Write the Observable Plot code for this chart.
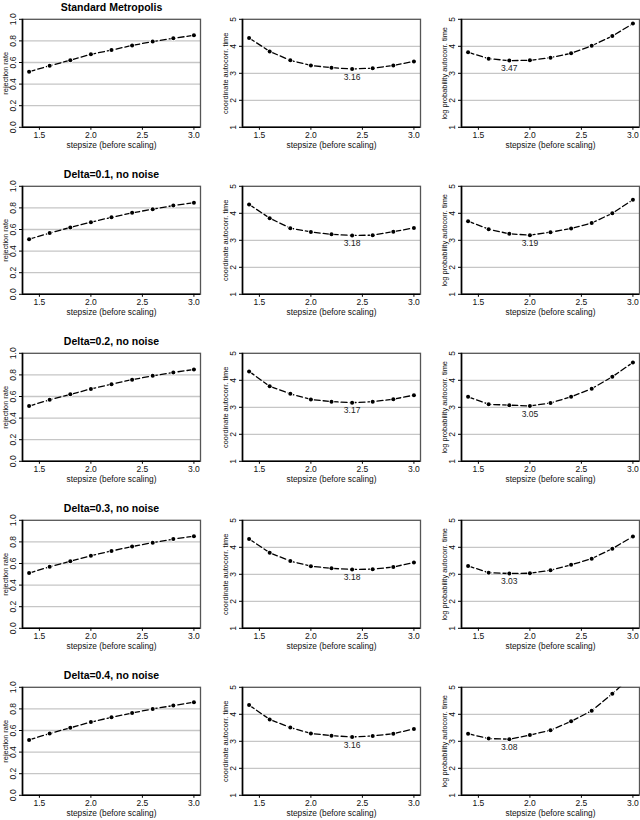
<!DOCTYPE html>
<html>
<head>
<meta charset="utf-8">
<script src="https://cdn.jsdelivr.net/npm/d3@7"></script>
<script src="https://cdn.jsdelivr.net/npm/@observablehq/plot@0.6"></script>
<style>
  html, body { margin: 0; padding: 0; background: white; }
  #grid { position: relative; width: 640px; height: 820px; overflow: hidden; }
  #grid svg { position: absolute; }
</style>
</head>
<body>
<div id="grid"></div>
<script>
// ---- data ----
const stepsize = [1.4, 1.6, 1.8, 2.0, 2.2, 2.4, 2.6, 2.8, 3.0];
const titles = ["Standard Metropolis", "Delta=0.1, no noise", "Delta=0.2, no noise", "Delta=0.3, no noise", "Delta=0.4, no noise"];
const yLabels = ["rejection rate", "coordinate autocorr. time", "log probability autocorr. time"];
const xLabel = "stepsize (before scaling)";
const xTicks = [1.5, 2.0, 2.5, 3.0];
const rejTicks = [0.0, 0.2, 0.4, 0.6, 0.8, 1.0];
const acTicks = [1, 2, 3, 4, 5];

const rejection0 = [0.515, 0.570, 0.621, 0.676, 0.715, 0.758, 0.794, 0.824, 0.852];
const rejection1 = [0.510, 0.567, 0.619, 0.668, 0.713, 0.754, 0.788, 0.822, 0.848];
const rejection2 = [0.512, 0.569, 0.620, 0.670, 0.714, 0.756, 0.791, 0.823, 0.850];
const rejection3 = [0.512, 0.570, 0.621, 0.672, 0.716, 0.757, 0.793, 0.826, 0.853];
const rejection4 = [0.513, 0.572, 0.625, 0.678, 0.722, 0.762, 0.800, 0.831, 0.862];

const coord0 = [4.31, 3.81, 3.48, 3.29, 3.21, 3.16, 3.19, 3.29, 3.44];
const coord1 = [4.33, 3.82, 3.45, 3.31, 3.22, 3.18, 3.19, 3.32, 3.46];
const coord2 = [4.33, 3.78, 3.50, 3.29, 3.21, 3.17, 3.21, 3.30, 3.45];
const coord3 = [4.31, 3.80, 3.49, 3.30, 3.22, 3.18, 3.19, 3.27, 3.44];
const coord4 = [4.34, 3.81, 3.51, 3.29, 3.21, 3.16, 3.20, 3.28, 3.46];

const logp0 = [3.78, 3.54, 3.47, 3.48, 3.58, 3.74, 4.02, 4.38, 4.84];
const logp1 = [3.71, 3.41, 3.24, 3.19, 3.30, 3.44, 3.64, 4.00, 4.50];
const logp2 = [3.39, 3.11, 3.08, 3.05, 3.16, 3.39, 3.69, 4.13, 4.66];
const logp3 = [3.31, 3.06, 3.03, 3.04, 3.15, 3.35, 3.58, 3.95, 4.40];
const logp4 = [3.28, 3.10, 3.08, 3.23, 3.41, 3.74, 4.13, 4.76, 5.45];

const rejection = [rejection0, rejection1, rejection2, rejection3, rejection4];
const coord = [coord0, coord1, coord2, coord3, coord4];
const logp = [logp0, logp1, logp2, logp3, logp4];

// ---- layout ----
const W = 220, H = 168;
const colStep = 219.5, rowStep = 167;
const xDomain = [1.336, 3.064];
const font = "'Liberation Sans', Arial, Helvetica, sans-serif";

function panel(values, row, col) {
  const data = stepsize.map((x, i) => ({x, y: values[i]}));
  const isRej = col === 0;
  const yDomain = isRej ? [0, 1] : [1, 5];
  const yTicks = isRej ? rejTicks : acTicks;
  const grid = yTicks.slice(1, -1);
  const fmt = isRej ? d3.format(".1f") : d3.format("d");
  const marks = [
    Plot.ruleY(grid, {stroke: "#c6c6c6", strokeWidth: 1.3}),
    Plot.frame({stroke: "#555", strokeWidth: 1.3}),
    Plot.ruleX([xDomain[0]], {stroke: "black", strokeWidth: 1.6}),
    Plot.ruleY([yDomain[0]], {stroke: "black", strokeWidth: 1.6}),
    Plot.axisX({ticks: xTicks, tickSize: 3, tickPadding: 1.5, tickFormat: d3.format(".1f"), label: null, fill: "#111"}),
    Plot.axisY({ticks: yTicks, tickSize: 3, tickFormat: () => "", label: null}),
    Plot.text(yTicks, {y: d => d, frameAnchor: "left", textAnchor: "middle", lineAnchor: "middle", dx: -9, rotate: -90, text: d => fmt(d), fill: "#111"}),
    Plot.text([xLabel], {frameAnchor: "bottom", lineAnchor: "middle", dy: 18.5, text: d => d, fill: "#111", fontSize: 8.3}),
    Plot.text([yLabels[col]], {frameAnchor: "left", textAnchor: "middle", lineAnchor: "middle", dx: -17, rotate: -90, text: d => d, fill: "#111", fontSize: 7.4}),
    Plot.line(data, {x: "x", y: "y", stroke: "black", strokeWidth: 1.3, strokeDasharray: "6,3", clip: true}),
    Plot.dot(data, {x: "x", y: "y", r: 2, fill: "black", stroke: "white", strokeWidth: 1.5, paintOrder: "stroke", clip: true})
  ];
  if (col === 0) {
    marks.push(Plot.text([titles[row]], {frameAnchor: "top", lineAnchor: "middle", dy: -11.5, text: d => d, fontWeight: "bold", fontSize: 10.5, fill: "#000"}));
  } else {
    let m = 0;
    values.forEach((v, i) => { if (v < values[m]) m = i; });
    const minPt = data[m];
    marks.push(Plot.text([minPt], {x: "x", y: "y", dy: 8, text: d => d.y.toFixed(2), fontSize: 8.5, fill: "#222"}));
  }
  const svg = Plot.plot({
    width: W, height: H,
    marginLeft: 22, marginRight: 20, marginTop: 18.8, marginBottom: 41.2,
    x: {domain: xDomain},
    y: {domain: yDomain},
    style: {fontFamily: font, fontSize: "8.5px", background: "transparent", overflow: "visible"},
    marks
  });
  svg.style.left = (col * colStep) + "px";
  svg.style.top = (row * rowStep) + "px";
  return svg;
}

const gridEl = document.getElementById("grid");
for (let r = 0; r < 5; r++) {
  gridEl.appendChild(panel(rejection[r], r, 0));
  gridEl.appendChild(panel(coord[r], r, 1));
  gridEl.appendChild(panel(logp[r], r, 2));
}
</script>
</body>
</html>
